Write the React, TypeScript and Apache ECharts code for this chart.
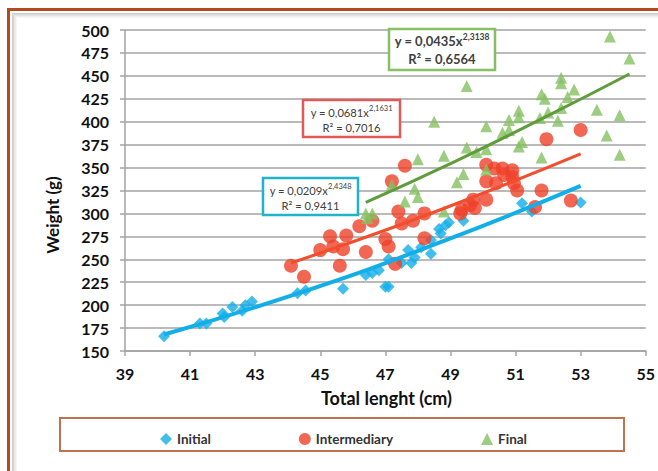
import React, { useEffect, useRef } from 'react';
import * as echarts from 'echarts';

// ---- data ----
const initialData: [number, number][] = [
  [40.2, 166], [41.3, 180], [41.5, 180], [42.0, 191], [42.05, 187], [42.3, 198],
  [42.6, 194], [42.7, 200], [42.9, 204], [44.3, 213], [44.55, 216], [45.7, 218],
  [46.4, 233], [46.6, 235], [46.8, 238], [47.0, 220], [47.1, 220], [47.1, 250],
  [47.5, 246], [47.7, 260], [47.8, 246], [47.9, 252], [48.1, 263], [48.4, 256],
  [48.4, 271], [48.65, 283], [48.7, 278], [48.85, 287], [48.95, 290], [49.4, 292],
  [51.2, 311], [51.5, 302], [53.0, 312],
];
const intermediaryData: [number, number][] = [
  [44.1, 243], [44.5, 231], [45.0, 260], [45.3, 275], [45.4, 264], [45.6, 243],
  [45.7, 261], [45.8, 276], [46.2, 286], [46.4, 258], [46.6, 292], [47.0, 272],
  [47.1, 264], [47.2, 335], [47.3, 245], [47.4, 302], [47.5, 289], [47.6, 352],
  [47.85, 292], [48.2, 300], [48.2, 273], [49.3, 300], [49.35, 304], [49.6, 309],
  [49.7, 315], [49.75, 306], [50.1, 315], [50.1, 335], [50.1, 353], [50.35, 349],
  [50.4, 333], [50.6, 349], [50.65, 342], [50.9, 347], [50.9, 340], [50.95, 333],
  [51.05, 325], [51.6, 307], [51.8, 325], [51.95, 381], [52.7, 314], [53.0, 391],
];
const finalData: [number, number][] = [
  [46.4, 300], [46.6, 300], [46.45, 295], [47.2, 331], [47.6, 313], [47.9, 327],
  [48.0, 318], [48.0, 359], [48.5, 400], [48.8, 363], [48.8, 302], [49.2, 334],
  [49.4, 343], [49.5, 439], [49.5, 372], [49.8, 367], [50.1, 395], [50.1, 370],
  [50.1, 348], [50.6, 388], [50.8, 391], [50.8, 402], [51.1, 412], [51.1, 405],
  [51.1, 373], [51.2, 378], [51.75, 404], [51.8, 430], [51.8, 361], [51.9, 425],
  [52.0, 410], [52.3, 401], [52.4, 448], [52.4, 442], [52.4, 415], [52.6, 427],
  [52.8, 435], [53.5, 413], [53.8, 385], [53.9, 493], [54.2, 407], [54.2, 364],
  [54.5, 469],
];
// trend lines
const initialTrend: [number, number][] = [[40.2, 168], [44.5, 215], [48.8, 270], [53.0, 330]];
const intermediaryTrend: [number, number][] = [[44.1, 246], [47.1, 283], [50.0, 322], [53.0, 365]];
const finalTrend: [number, number][] = [[46.4, 312], [49.1, 356], [51.8, 403], [54.5, 452]];

const seriesNames = ['Initial', 'Intermediary', 'Final'];
const equations = [
  { coef: 'y = 0,0209x', exp: '2,4348', r2: 'R² = 0,9411' },
  { coef: 'y = 0,0681x', exp: '2,1631', r2: 'R² = 0,7016' },
  { coef: 'y = 0,0435x', exp: '2,3138', r2: 'R² = 0,6564' },
];
const xTitle = 'Total lenght (cm)';
const yTitle = 'Weight (g)';

const FONT = 'Lato';
const BLUE = '#12aee8';
const RED = '#ef4129';
const GREEN = '#84c062';
const GREEN_LINE = '#5e9c3c';
const GRID = '#a3a3a3';

function eqBox(x: number, y: number, w: number, h: number, color: string, eq: typeof equations[number], bold: boolean, fs: number, sfs: number, l1: number, l2: number) {
  const fw = bold ? 'bold' : 'normal';
  return {
    type: 'group',
    z: 20,
    children: [
      { type: 'rect', z: 20, shape: { x, y, width: w, height: h }, style: { fill: '#fff', stroke: color, lineWidth: 2.5 } },
      {
        type: 'text',
        z: 21,
        style: {
          x: x + w / 2, y: y + l1, align: 'center', verticalAlign: 'middle',
          text: `{a|${eq.coef}}{s|${eq.exp}}`,
          rich: {
            a: { fontFamily: FONT, fontSize: fs, fontWeight: fw, fill: '#404040', lineHeight: fs + 4 },
            s: { fontFamily: FONT, fontSize: sfs, fontWeight: fw, fill: '#404040', verticalAlign: 'top', lineHeight: fs + 4 },
          },
        },
      },
      {
        type: 'text',
        z: 21,
        style: {
          x: x + w / 2, y: y + l2, align: 'center', verticalAlign: 'middle',
          text: eq.r2, fontFamily: FONT, fontSize: fs, fontWeight: fw, fill: '#404040',
        },
      },
    ],
  };
}

export default function App() {
  const ref = useRef<HTMLDivElement>(null);
  useEffect(() => {
    const chart = echarts.init(ref.current!, null, { renderer: 'svg' });
    const shadeColors = ['#cdcdcd', '#d9d9d9', '#e4e4e4', '#eeeeee', '#f6f6f6'];
    const shade: any[] = [];
    shadeColors.forEach((c, i) => {
      shade.push({ type: 'line', shape: { x1: 12.5 + i, y1: 13 + i, x2: 12.5 + i, y2: 471 }, style: { stroke: c, lineWidth: 1 }, silent: true });
      shade.push({ type: 'line', shape: { x1: 12 + i, y1: 13.5 + i, x2: 658, y2: 13.5 + i }, style: { stroke: c, lineWidth: 1 }, silent: true });
    });
    chart.setOption({
      animation: false,
      backgroundColor: '#fff',
      grid: { left: 125, right: 10, top: 30, bottom: 120, containLabel: false },
      xAxis: {
        type: 'value', min: 39, max: 55, interval: 2,
        axisLine: { show: true, lineStyle: { color: GRID, width: 1.5 } },
        axisTick: { show: true, length: 5, lineStyle: { color: GRID, width: 1.5 } },
        splitLine: { show: false },
        axisLabel: { fontFamily: FONT, fontSize: 16, fontWeight: 'bold', color: '#111', margin: 14 },
      },
      yAxis: {
        type: 'value', min: 150, max: 500, interval: 25,
        axisLine: { show: true, lineStyle: { color: GRID, width: 1.5 } },
        axisTick: { show: true, length: 5, lineStyle: { color: GRID, width: 1.5 } },
        splitLine: { show: true, lineStyle: { color: GRID, width: 1.5 } },
        axisLabel: { fontFamily: FONT, fontSize: 16, fontWeight: 'bold', color: '#111', margin: 16 },
      },
      legend: {
        data: [
          { name: seriesNames[0], icon: 'diamond' },
          { name: seriesNames[1], icon: 'circle' },
          { name: seriesNames[2], icon: 'triangle' },
        ],
        left: 155, top: 427, itemGap: 88, itemWidth: 12, itemHeight: 12,
        textStyle: { fontFamily: FONT, fontSize: 13.5, fontWeight: 'bold', color: '#333' },
        selectedMode: false,
      },
      graphic: [
        { type: 'rect', shape: { x: 8.5, y: 9.5, width: 720, height: 520 }, style: { fill: 'none', stroke: '#b24a1e', lineWidth: 3 }, silent: true },
        ...shade,
        { type: 'rect', shape: { x: 60, y: 418, width: 564, height: 33 }, style: { fill: 'none', stroke: '#c0714f', lineWidth: 2 }, z: 0, silent: true },
        {
          type: 'text', style: { x: 386.5, y: 398, text: xTitle, align: 'center', verticalAlign: 'middle', fontFamily: FONT, fontSize: 18, fontWeight: 'bold', fill: '#111' },
        },
        {
          type: 'text', x: 52, y: 215, rotation: Math.PI / 2,
          style: { x: 0, y: 0, text: yTitle, align: 'center', verticalAlign: 'middle', fontFamily: FONT, fontSize: 17, fontWeight: 'bold', fill: '#111' },
        },
        eqBox(263, 178, 95, 37, '#1fb4cb', equations[0], false, 11.2, 7.5, 12, 27),
        eqBox(303, 100, 97, 37, '#e35858', equations[1], false, 11.2, 7.5, 12, 27),
        eqBox(389, 29, 106, 41, '#86c062', equations[2], true, 13, 8.5, 12, 30),
      ],
      series: [
        { name: seriesNames[0], type: 'scatter', data: initialData, symbol: 'diamond', symbolSize: 12, itemStyle: { color: BLUE }, z: 2 },
        { name: seriesNames[1], type: 'scatter', data: intermediaryData, symbol: 'circle', symbolSize: 14, itemStyle: { color: RED }, z: 2 },
        { name: seriesNames[2], type: 'scatter', data: finalData, symbol: 'triangle', symbolSize: 12, itemStyle: { color: GREEN }, z: 2 },
        { name: 'Initial trend', type: 'line', data: initialTrend, smooth: true, showSymbol: false, lineStyle: { color: BLUE, width: 4 }, z: 3 },
        { name: 'Intermediary trend', type: 'line', data: intermediaryTrend, smooth: true, showSymbol: false, lineStyle: { color: '#f24d2c', width: 3 }, z: 3 },
        { name: 'Final trend', type: 'line', data: finalTrend, smooth: true, showSymbol: false, lineStyle: { color: GREEN_LINE, width: 3 }, z: 3 },
      ],
    });
    return () => chart.dispose();
  }, []);
  return <div ref={ref} style={{ position: 'absolute', left: 0, top: 0, width: 658, height: 471, background: '#fff' }} />;
}
